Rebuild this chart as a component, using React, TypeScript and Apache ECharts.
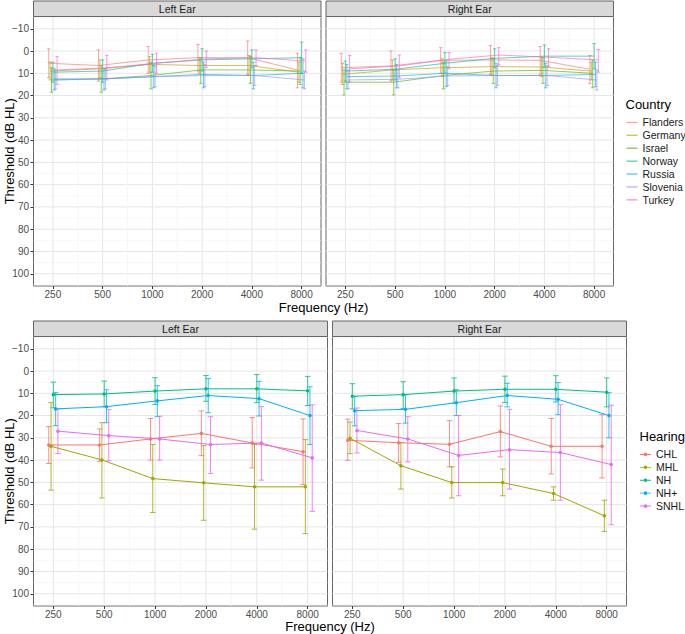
import React, { useEffect, useRef } from "react";
import * as echarts from "echarts";

const FONT = "Liberation Sans, Arial, Helvetica, sans-serif";

const FREQS = ["250", "500", "1000", "2000", "4000", "8000"];
const X_MAJOR = [0, 1, 2, 3, 4, 5];
const X_MINOR = [0.5, 1.5, 2.5, 3.5, 4.5];
const Y_MAJOR = [-10, 0, 10, 20, 30, 40, 50, 60, 70, 80, 90, 100];
const Y_MINOR = [-15, -5, 5, 15, 25, 35, 45, 55, 65, 75, 85, 95, 105];
const X_MIN = -0.39;
const X_MAX = 5.39;
const Y_MIN = -15.5;
const Y_MAX = 105.5;

const COUNTRIES = ["Flanders", "Germany", "Israel", "Norway", "Russia", "Slovenia", "Turkey"];
const COUNTRY_COLORS = ["#F8766D", "#C49A00", "#53B400", "#00C094", "#00B6EB", "#A58AFF", "#FB61D7"];

// Left ear, by country
const COUNTRY_LEFT_MEAN = [
  [5.5, 6.5, 4, 3, 3, 8.5],
  [9, 8, 6, 6.5, 6.5, 9.5],
  [13, 12.5, 11, 8.5, 8.5, 9],
  [9.5, 9, 5.5, 4, 3.5, 3],
  [12.5, 12.5, 11.5, 10.5, 11, 10],
  [13, 12.5, 11.5, 11, 11, 13],
  [8.5, 7.5, 5.5, 3.5, 3, 4.5],
];
const COUNTRY_LEFT_LOW = [
  [-1, -0.5, -2, -3, -4.5, 1],
  [5, 4, 2.5, 3, 2, 5],
  [7.5, 6.5, 5, 3, 2.5, 3],
  [5, 4, 1.5, -1, -0.5, -4],
  [8, 8, 6.5, 5, 5, 3.5],
  [8.5, 8, 7, 6, 6.5, 9],
  [2.5, 2, 1, 0, -0.5, -0.5],
];
const COUNTRY_LEFT_HIGH = [
  [12, 13.5, 10, 9, 10.5, 16.5],
  [13, 12, 9.5, 10, 11, 14],
  [18.5, 18.5, 17, 14.5, 14.5, 15],
  [14, 14, 9.5, 9, 7.5, 10],
  [17.5, 17.5, 16.5, 16.5, 17, 16.5],
  [17, 17, 16, 16, 15.5, 17],
  [15, 13, 10, 7.5, 6.5, 9.5],
];

// Right ear, by country
const COUNTRY_RIGHT_MEAN = [
  [7.5, 6.7, 4.2, 4, 4.2, 8.2],
  [10.5, 8.5, 7.5, 7, 7.2, 9],
  [14, 14, 11, 9, 8.7, 10],
  [9, 8.2, 5.5, 3.3, 2.3, 2.3],
  [11.5, 11.2, 10, 11, 11, 10.5],
  [13, 12.7, 11.2, 11, 11, 13],
  [8, 6.7, 3.7, 1.8, 2.8, 4],
];
const COUNTRY_RIGHT_LOW = [
  [1, 0, -1.5, -2.5, -2, 2],
  [5.5, 4, 3.5, 3, 3, 5],
  [8.5, 8.5, 5, 3.5, 3, 4],
  [4.5, 3.5, 0.7, -1, -2.7, -3.3],
  [6, 6, 4.5, 5.5, 5.5, 5],
  [8.5, 8.5, 7, 6.5, 6.5, 8.5],
  [2, 1.8, 0.7, -1.5, -1, -0.7],
];
const COUNTRY_RIGHT_HIGH = [
  [14, 13.5, 10, 10.5, 10.5, 14.5],
  [15, 13, 11.5, 11, 11.5, 13],
  [19.7, 19.7, 17, 14.5, 14.5, 16.5],
  [13.5, 13, 10, 7.5, 7.3, 8],
  [17, 16.5, 16, 16.5, 16.5, 16],
  [17, 16.5, 15.5, 15.5, 15.5, 17.5],
  [14, 12, 8, 6, 7, 9.5],
];

const HEARING = ["CHL", "MHL", "NH", "NH+", "SNHL"];
const HEARING_COLORS = ["#F8766D", "#A3A500", "#00BF7D", "#00B0F6", "#E76BF3"];

// Left ear, by hearing group
const HEARING_LEFT_MEAN = [
  [33.2, 33.2, 30.5, 28, 32.3, 36.2],
  [33.8, 39.9, 48.3, 50.2, 52, 52],
  [10.6, 10.3, 9, 8, 8, 8.9],
  [17, 16, 13.4, 11, 12.4, 20],
  [27, 29, 30.5, 33, 32.3, 39],
];
const HEARING_LEFT_LOW = [
  [25, 26, 21.3, 17.9, 20.9, 21.5],
  [14.2, 23.2, 33, 33.5, 33, 30.8],
  [5, 4.5, 3, 2, 1.6, 2.4],
  [9.7, 8.4, 6.6, 3.4, 4.6, 7.1],
  [17, 17.3, 20.3, 20.5, 16, 15.2],
];
const HEARING_LEFT_HIGH = [
  [41.5, 40.5, 40, 38, 43.5, 51],
  [53.5, 57, 63.5, 67, 71, 73],
  [16.5, 16, 15, 13.6, 14.2, 15.5],
  [24.5, 23.2, 20.5, 18.7, 20.2, 33],
  [37, 40.3, 40, 46, 49, 63],
];

// Right ear, by hearing group
const HEARING_RIGHT_MEAN = [
  [31.1, 32.2, 32.9, 27.2, 33.8, 33.8],
  [30.2, 42.5, 50.1, 50.1, 55, 65],
  [11.3, 10.6, 9, 8.2, 8.2, 9.5],
  [17.8, 17.2, 14.2, 11, 12.7, 20],
  [26.7, 30.5, 37.9, 35.3, 36.6, 42],
];
const HEARING_RIGHT_LOW = [
  [21.6, 23.6, 22.3, 15.7, 21.3, 19.6],
  [22.9, 32.1, 43, 44, 52, 58],
  [5.7, 4.8, 3.1, 2.3, 2.1, 3.1],
  [11.5, 10.6, 8.4, 5.5, 5.2, 9.7],
  [16.6, 20.5, 20, 17.2, 15.1, 15.4],
];
const HEARING_RIGHT_HIGH = [
  [40.1, 41, 43, 38.6, 46.2, 48],
  [37.1, 53, 57, 56, 58, 72],
  [17, 16.9, 14.5, 14.2, 13.9, 16.1],
  [24.6, 23.4, 20, 16.1, 19.6, 30],
  [36.8, 40.8, 56, 53, 58, 69],
];

const GRIDS = [
  { left: 33.5, top: 16.5, width: 287.5, height: 269.5 },
  { left: 326, top: 16.5, width: 287.5, height: 269.5 },
  { left: 33.5, top: 336.5, width: 294, height: 269.5 },
  { left: 332.5, top: 336.5, width: 294, height: 269.5 },
];
const STRIP_LABELS = ["Left Ear", "Right Ear", "Left Ear", "Right Ear"];

function hexA(hex: string, a: number) {
  const r = parseInt(hex.slice(1, 3), 16);
  const g = parseInt(hex.slice(3, 5), 16);
  const b = parseInt(hex.slice(5, 7), 16);
  return `rgba(${r},${g},${b},${a})`;
}

function fmtY(v: number) {
  return v < 0 ? "\u2212" + Math.abs(v) : String(v);
}

function gridLinesV(gi: number) {
  return {
    type: "custom",
    xAxisIndex: gi,
    yAxisIndex: gi,
    silent: true,
    z: 0,
    data: [...X_MINOR.map((v) => [v, 0, 1]), ...X_MAJOR.map((v) => [v, 0, 0])],
    renderItem: (params: any, api: any) => {
      const cs = params.coordSys;
      const x = api.coord([api.value(0), 0])[0];
      const minor = api.value(2) === 1;
      return {
        type: "line",
        shape: { x1: x, y1: cs.y, x2: x, y2: cs.y + cs.height },
        style: { stroke: minor ? "#F3F3F3" : "#E6E6E6", lineWidth: minor ? 0.7 : 1 },
      };
    },
  };
}

function gridLinesH(gi: number) {
  return {
    type: "custom",
    xAxisIndex: gi,
    yAxisIndex: gi,
    silent: true,
    z: 0,
    data: [...Y_MINOR.map((v) => [0, v, 1]), ...Y_MAJOR.map((v) => [0, v, 0])],
    renderItem: (params: any, api: any) => {
      const cs = params.coordSys;
      const y = api.coord([0, api.value(1)])[1];
      const minor = api.value(2) === 1;
      return {
        type: "line",
        shape: { x1: cs.x, y1: y, x2: cs.x + cs.width, y2: y },
        style: { stroke: minor ? "#F3F3F3" : "#E6E6E6", lineWidth: minor ? 0.7 : 1 },
      };
    },
  };
}

function errorBars(gi: number, name: string, color: string, off: number, low: number[], high: number[], cap: number, alpha: number) {
  return {
    type: "custom",
    name,
    xAxisIndex: gi,
    yAxisIndex: gi,
    silent: true,
    z: 2,
    encode: { x: 0, y: [1, 2] },
    data: low.map((l, k) => [k + off, l, high[k]]),
    renderItem: (params: any, api: any) => {
      const x = api.value(0);
      const lo = api.value(1);
      const hi = api.value(2);
      const a = api.coord([x, lo]);
      const b = api.coord([x, hi]);
      const la = api.coord([x - cap, lo]);
      const ra = api.coord([x + cap, lo]);
      const lb = api.coord([x - cap, hi]);
      const rb = api.coord([x + cap, hi]);
      const st = { stroke: hexA(color, alpha), lineWidth: 1 };
      return {
        type: "group",
        children: [
          { type: "line", shape: { x1: a[0], y1: a[1], x2: b[0], y2: b[1] }, style: st },
          { type: "line", shape: { x1: la[0], y1: la[1], x2: ra[0], y2: ra[1] }, style: st },
          { type: "line", shape: { x1: lb[0], y1: lb[1], x2: rb[0], y2: rb[1] }, style: st },
        ],
      };
    },
  };
}

function meanLine(gi: number, name: string, color: string, off: number, mean: number[], points: boolean, alpha: number) {
  return {
    type: "line",
    name,
    xAxisIndex: gi,
    yAxisIndex: gi,
    silent: true,
    z: 3,
    data: mean.map((m, k) => [k + off, m]),
    showSymbol: points,
    symbol: "circle",
    symbolSize: 3.5,
    itemStyle: { color },
    lineStyle: { width: 1, color: hexA(color, alpha) },
    emphasis: { disabled: true },
  };
}

export default function App() {
  const ref = useRef<HTMLDivElement>(null);

  useEffect(() => {
    if (!ref.current) return;
    const chart = echarts.init(ref.current, undefined, { renderer: "svg" });

    const series: any[] = [];
    for (let gi = 0; gi < 4; gi++) {
      series.push(gridLinesH(gi));
      series.push(gridLinesV(gi));
    }
    // Country (top row)
    COUNTRIES.forEach((name, i) => {
      const off = (i - 3) * 0.028;
      const c = COUNTRY_COLORS[i];
      series.push(meanLine(0, name, c, off, COUNTRY_LEFT_MEAN[i], false, 0.65));
      series.push(meanLine(1, name, c, off, COUNTRY_RIGHT_MEAN[i], false, 0.65));
    });
    COUNTRIES.forEach((name, i) => {
      const off = (i - 3) * 0.028;
      const c = COUNTRY_COLORS[i];
      series.push(errorBars(0, name, c, off, COUNTRY_LEFT_LOW[i], COUNTRY_LEFT_HIGH[i], 0.035, 0.65));
      series.push(errorBars(1, name, c, off, COUNTRY_RIGHT_LOW[i], COUNTRY_RIGHT_HIGH[i], 0.035, 0.65));
    });
    // Hearing (bottom row)
    HEARING.forEach((name, i) => {
      const off = (i - 2) * 0.045;
      const c = HEARING_COLORS[i];
      series.push(meanLine(2, name, c, off, HEARING_LEFT_MEAN[i], true, 1));
      series.push(meanLine(3, name, c, off, HEARING_RIGHT_MEAN[i], true, 1));
    });
    HEARING.forEach((name, i) => {
      const off = (i - 2) * 0.045;
      const c = HEARING_COLORS[i];
      series.push(errorBars(2, name, c, off, HEARING_LEFT_LOW[i], HEARING_LEFT_HIGH[i], 0.055, 0.8));
      series.push(errorBars(3, name, c, off, HEARING_RIGHT_LOW[i], HEARING_RIGHT_HIGH[i], 0.055, 0.8));
    });

    const xAxis = GRIDS.map((_, gi) => ({
      type: "value",
      gridIndex: gi,
      position: "bottom",
      min: X_MIN,
      max: X_MAX,
      axisLine: { show: false, onZero: false },
      splitLine: { show: false },
      axisTick: { show: true, customValues: X_MAJOR, length: 3, lineStyle: { color: "#333333", width: 1 } },
      axisLabel: {
        show: true,
        customValues: X_MAJOR,
        formatter: (v: number) => FREQS[Math.round(v)],
        margin: 3.5,
        color: "#4D4D4D",
        fontSize: 10,
        fontFamily: FONT,
      },
    }));

    const yAxis = GRIDS.map((_, gi) => ({
      type: "value",
      gridIndex: gi,
      position: "left",
      inverse: true,
      min: Y_MIN,
      max: Y_MAX,
      axisLine: { show: false, onZero: false },
      splitLine: { show: false },
      axisTick: { show: gi % 2 === 0, customValues: Y_MAJOR, length: 3, lineStyle: { color: "#333333", width: 1 } },
      axisLabel: {
        show: gi % 2 === 0,
        customValues: Y_MAJOR,
        formatter: (v: number) => fmtY(v),
        margin: 4.5,
        color: "#4D4D4D",
        fontSize: 10,
        fontFamily: FONT,
      },
    }));

    const graphic: any[] = [];
    GRIDS.forEach((g, gi) => {
      graphic.push({
        type: "rect",
        shape: { x: g.left, y: g.top - 15.5, width: g.width, height: 15.5 },
        style: { fill: "#D9D9D9", stroke: "#666666", lineWidth: 1 },
        z: 10,
      });
      graphic.push({
        type: "text",
        x: g.left + g.width / 2,
        y: g.top - 7.75,
        z: 11,
        style: {
          text: STRIP_LABELS[gi],
          align: "center",
          verticalAlign: "middle",
          textAlign: "center",
          textVerticalAlign: "middle",
          fontSize: 10.5,
          fontFamily: FONT,
          fill: "#1A1A1A",
        },
      });
    });
    const titles = [
      { text: "Frequency (Hz)", x: (GRIDS[0].left + GRIDS[1].left + GRIDS[1].width) / 2, y: 307, rot: 0 },
      { text: "Frequency (Hz)", x: (GRIDS[2].left + GRIDS[3].left + GRIDS[3].width) / 2, y: 626, rot: 0 },
      { text: "Threshold (dB HL)", x: 9.5, y: GRIDS[0].top + GRIDS[0].height / 2, rot: Math.PI / 2 },
      { text: "Threshold (dB HL)", x: 9.5, y: GRIDS[2].top + GRIDS[2].height / 2, rot: Math.PI / 2 },
    ];
    titles.forEach((t) =>
      graphic.push({
        type: "text",
        x: t.x,
        y: t.y,
        rotation: t.rot,
        style: {
          text: t.text,
          align: "center",
          verticalAlign: "middle",
          textAlign: "center",
          textVerticalAlign: "middle",
          fontSize: 13,
          fontFamily: FONT,
          fill: "#000000",
        },
      })
    );

    const legendText = { fontSize: 10.5, fontFamily: FONT, color: "#1A1A1A", lineHeight: 12.9 };

    chart.setOption({
      animation: false,
      backgroundColor: "#FFFFFF",
      grid: GRIDS.map((g) => ({
        left: g.left,
        top: g.top,
        width: g.width,
        height: g.height,
        show: true,
        backgroundColor: "#FFFFFF",
        borderColor: "#666666",
        borderWidth: 1,
        containLabel: false,
      })),
      xAxis,
      yAxis,
      title: [
        { text: "Country", left: 625.5, top: 96.5, padding: 0, textStyle: { fontSize: 13, fontWeight: "normal", fontFamily: FONT, color: "#000000", lineHeight: 16 } },
        { text: "Hearing", left: 639.5, top: 428.5, padding: 0, textStyle: { fontSize: 13, fontWeight: "normal", fontFamily: FONT, color: "#000000", lineHeight: 16 } },
      ],
      legend: [
        {
          orient: "vertical",
          left: 626.5,
          top: 116,
          padding: 0,
          itemGap: 0,
          itemWidth: 11,
          itemHeight: 1.4,
          selectedMode: false,
          textStyle: legendText,
          data: COUNTRIES.map((n, i) => ({ name: n, icon: "rect", itemStyle: { color: hexA(COUNTRY_COLORS[i], 0.65) } })),
        },
        {
          orient: "vertical",
          left: 640,
          top: 448,
          padding: 0,
          itemGap: 0,
          itemWidth: 11,
          itemHeight: 4,
          selectedMode: false,
          textStyle: legendText,
          data: HEARING.map((n, i) => ({
            name: n,
            icon: "path://M0,1.5 L12,1.5 L12,2.5 L0,2.5 Z M4,2 A2,2 0 1,1 8,2 A2,2 0 1,1 4,2 Z",
            itemStyle: { color: HEARING_COLORS[i] },
          })),
        },
      ],
      graphic,
      series,
    });

    return () => chart.dispose();
  }, []);

  return <div ref={ref} style={{ position: "absolute", left: 0, top: 0, width: 685, height: 634 }} />;
}
